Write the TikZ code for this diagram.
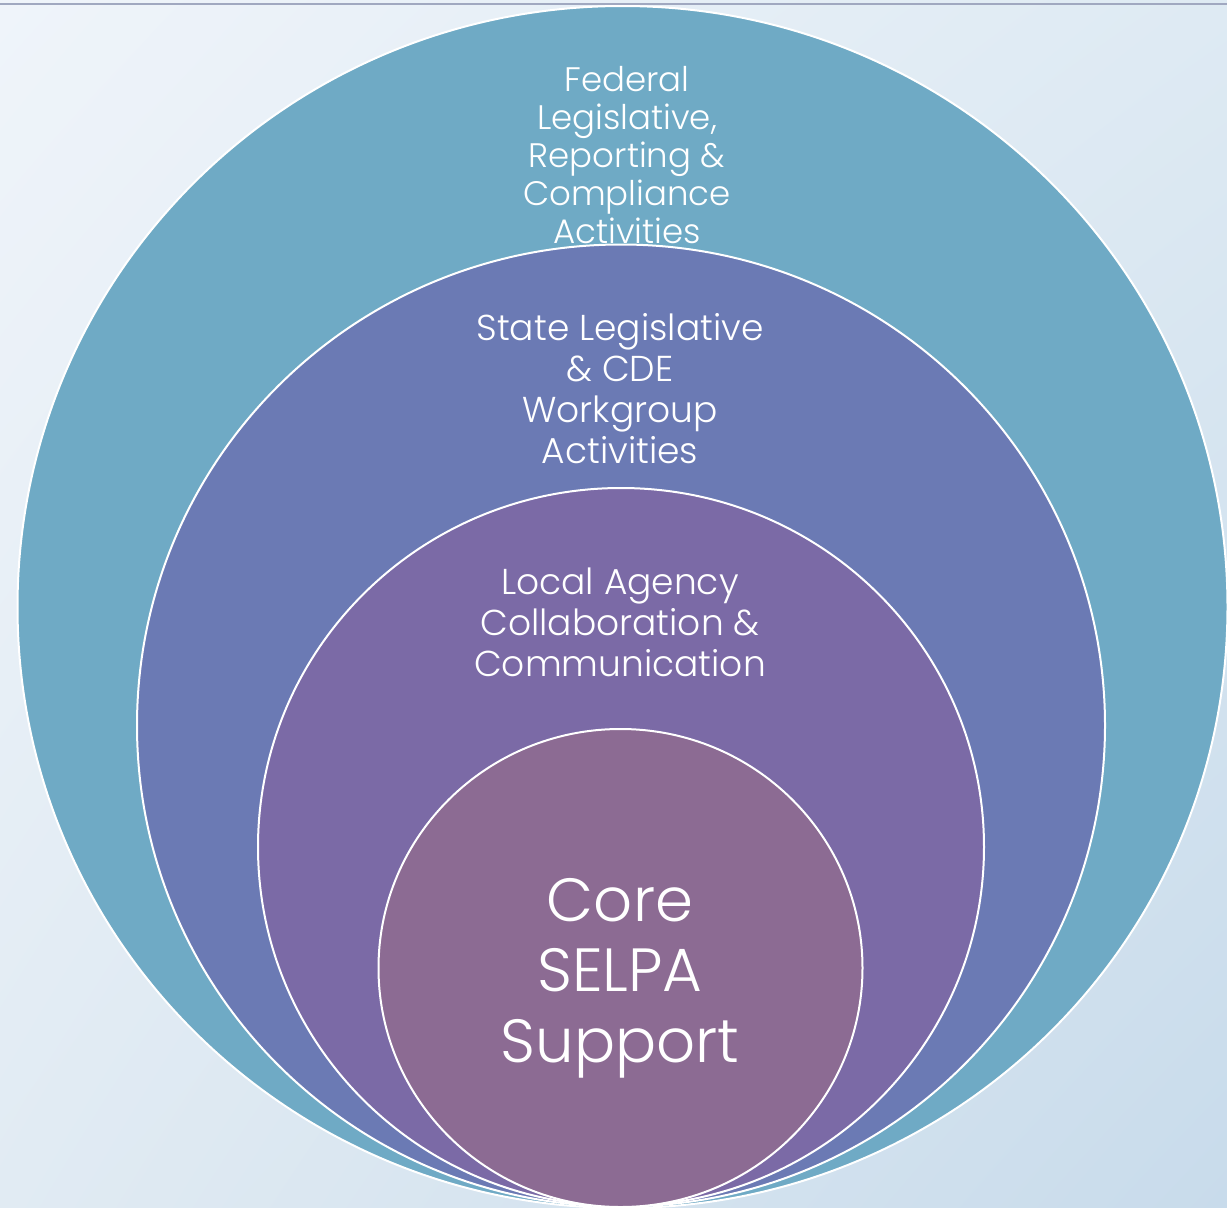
\documentclass[tikz,border=0pt]{standalone}
\usepackage{fontspec}
\setmainfont{Poppins Light}
\usetikzlibrary{shadings}
\definecolor{bgTL}{HTML}{EFF4FA}
\definecolor{bgTR}{HTML}{DEEAF3}
\definecolor{bgBL}{HTML}{E1EBF3}
\definecolor{bgBR}{HTML}{C8DBEB}
\definecolor{cOne}{HTML}{6FAAC5}
\definecolor{cTwo}{HTML}{6B7AB4}
\definecolor{cThree}{HTML}{7B6AA6}
\definecolor{cFour}{HTML}{8C6B93}
\definecolor{topline}{HTML}{A0A8C0}
\tikzset{
  ring/.style={draw=white, line width=2pt},
  lbl/.style={text=white, align=center, inner sep=0pt},
}
\begin{document}
\begin{tikzpicture}[x=1pt,y=-1pt]
\useasboundingbox (0,0) rectangle (1227,1208);
\shade[upper left=bgTL, upper right=bgTR, lower left=bgBL, lower right=bgBR] (0,0) rectangle (1227,1208);
\draw[topline, line width=2.2pt] (0,4) -- (1227,4);
\begin{scope}
\clip (0,5) rectangle (1227,1208);
\path[ring, fill=cOne] (622.5,607) ellipse [x radius=605, y radius=601];
\path[ring, fill=cTwo] (621,725.5) ellipse [x radius=484, y radius=481];
\path[ring, fill=cThree] (621,847) ellipse [x radius=363, y radius=359];
\path[ring, fill=cFour] (620.5,968) ellipse [x radius=242, y radius=239];
\end{scope}
\node[lbl, font=\fontsize{34}{38}\selectfont] (fed) at (627,155)
  {Federal\\Legislative,\\Reporting \&\\Compliance\\Activities};
\node[lbl, font=\fontsize{36}{41}\selectfont] (state) at (620,389)
  {State Legislative\\\& CDE\\Workgroup\\Activities};
\node[lbl, font=\fontsize{36}{41}\selectfont] (local) at (620,622)
  {Local Agency\\Collaboration \&\\Communication};
\node[lbl, font=\fontsize{61}{70.5}\selectfont] (core) at (620,978)
  {Core\\SELPA\\Support};
\end{tikzpicture}
\end{document}
